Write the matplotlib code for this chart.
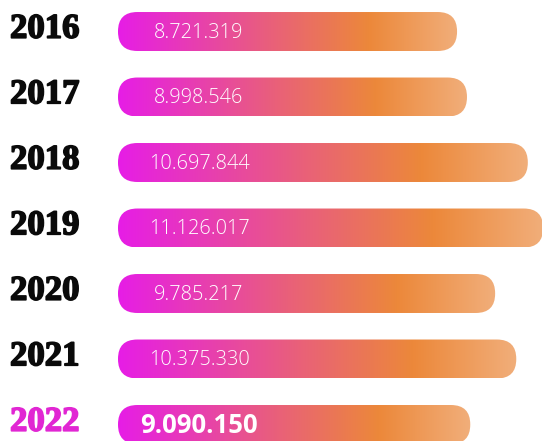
import matplotlib.pyplot as plt
import numpy as np
from matplotlib.colors import LinearSegmentedColormap
from matplotlib.patches import FancyBboxPatch
from matplotlib import transforms
import matplotlib.patheffects as pe

# data
years = ['2016', '2017', '2018', '2019', '2020', '2021', '2022']
visitors = [8721319, 8998546, 10697844, 11126017, 9785217, 10375330, 9090150]
highlight = '2022'

# bar gradient (magenta -> pink -> orange -> peach)
grad = LinearSegmentedColormap.from_list(
    'bar', [(0.0, '#e61de6'), (0.45, '#e9607a'), (0.74, '#ec883a'), (1.0, '#f1ae7a')])
magenta = '#e126d3'

fig = plt.figure(figsize=(5.42, 4.41), dpi=100)
ax = fig.add_axes([0, 0, 1, 1])

base = -0.75          # bars start a bit left of zero (in millions)
h = 0.595             # bar thickness in row units
r = 0.54              # corner radius in x units
asp = 0.547           # y/x scale ratio for the rounding

trans_lbl = transforms.blended_transform_factory(ax.transAxes, ax.transData)

for i, (yr, v) in enumerate(zip(years, visitors)):
    val = v / 1e6
    w = val - base
    patch = FancyBboxPatch((base, i - h / 2), w, h,
                           boxstyle=f"round,pad=0,rounding_size={r}",
                           mutation_aspect=asp, facecolor='none', edgecolor='none')
    ax.add_patch(patch)
    im = ax.imshow(np.linspace(0, 1, 256).reshape(1, -1), cmap=grad,
                   extent=[base, base + w, i + h / 2, i - h / 2],
                   aspect='auto', interpolation='bicubic')
    im.set_clip_path(patch)

    txt = f"{v:,}".replace(',', '.')
    if yr == highlight:
        ax.text(1.513, i + 0.13, txt, ha='center', va='baseline', color='white',
                fontsize=18.5, fontweight='bold', family='Open Sans')
        col = magenta
    else:
        ax.text(1.513, i + 0.096, txt, ha='center', va='baseline', color='white',
                fontsize=14.3, fontweight='light', family='Open Sans')
        col = '#0a0a0a'
    ax.text(0.0185, i + 0.096, yr, transform=trans_lbl, ha='left', va='baseline',
            color=col, fontsize=25, fontweight='bold', family='Liberation Serif',
            path_effects=[pe.withStroke(linewidth=1.2, foreground=col)])

ax.set_xlim(-4.046, 11.094)
ax.set_ylim(6.252, -0.481)
ax.axis('off')

fig.savefig('out.png', dpi=100)
